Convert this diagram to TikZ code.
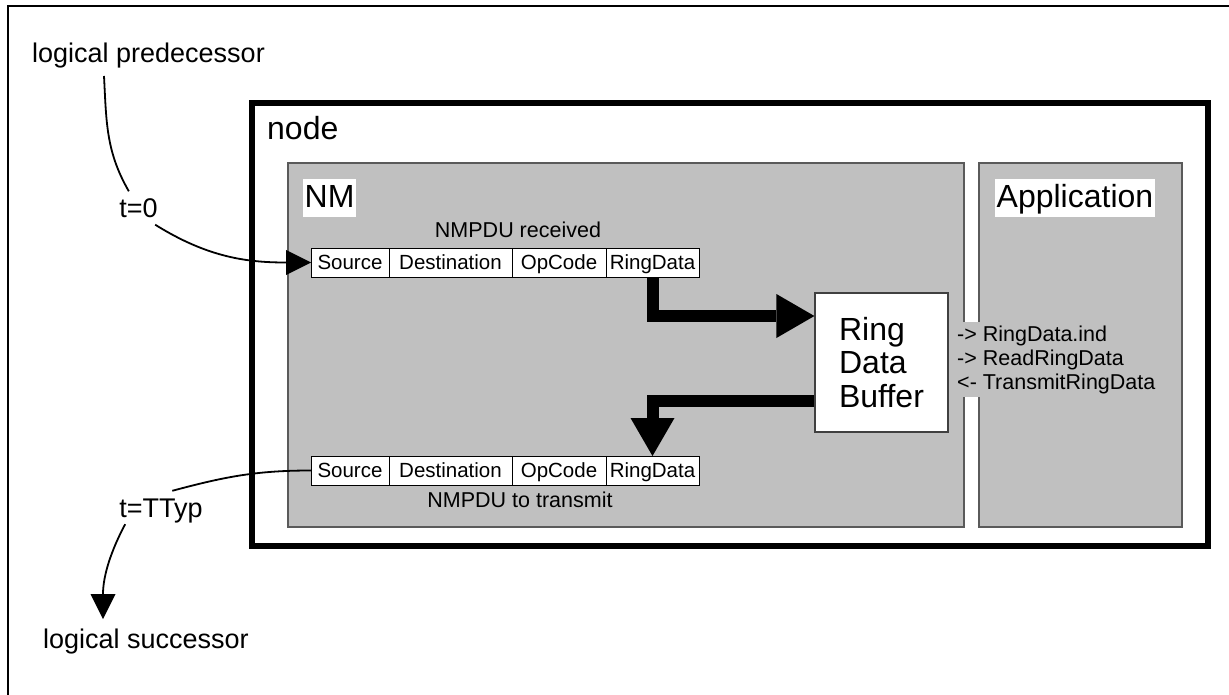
\documentclass[tikz,border=0pt]{standalone}
\usepackage{fontspec}
\setmainfont{Liberation Sans}
\usetikzlibrary{arrows.meta,calc}
\definecolor{boxgray}{HTML}{C0C0C0}
\definecolor{boxedge}{HTML}{5A5A5A}
\definecolor{rdbedge}{HTML}{404040}
\begin{document}
\begin{tikzpicture}[x=1pt,y=-1pt,
  outlbl/.style={inner sep=0pt, anchor=base west, font=\fontsize{27}{32}\selectfont},
  biglbl/.style={inner sep=0pt, anchor=base west, font=\fontsize{32}{38}\selectfont},
  whitelbl/.style={fill=white, inner xsep=1.5pt, inner ysep=0pt, text height=29pt, text depth=9pt, anchor=base west, font=\fontsize{32}{38}\selectfont},
  midlbl/.style={inner sep=0pt, anchor=base, font=\fontsize{21.5}{25}\selectfont},
  timelbl/.style={inner xsep=6pt, inner ysep=7pt, text height=19pt, text depth=0pt, font=\fontsize{27}{32}\selectfont},
  graybox/.style={fill=boxgray, draw=boxedge, line width=1.3pt, inner sep=0pt, outer sep=0pt, anchor=north west},
  field/.style={draw=black, line width=0.9pt, fill=white, minimum height=29pt, inner sep=0pt, outer sep=0pt, text height=14.7pt, text depth=0pt, font=\fontsize{20.5}{24}\selectfont, anchor=west},
  thinline/.style={line width=1.8pt},
  thinarrow/.style={line width=1.8pt, -{Triangle[length=25pt,width=25pt,line width=0pt]}},
  bigarrow/.style={line width=12pt, -{Triangle[length=38pt,width=44pt,line width=0pt]}},
]
\useasboundingbox (0,0) rectangle (1229,695);
% outer frame (only left and top visible)
\draw[line width=2pt] (7.5,695) -- (7.5,6) -- (1229,6);

% node container
\node[draw=black, line width=5.5pt, minimum width=956pt, minimum height=443pt, inner sep=0pt, outer sep=0pt, anchor=north west] (nodebox) at (252,103) {};
\node[biglbl] (nodelbl) at (267,140) {node};

% NM and Application boxes
\node[graybox, minimum width=676pt, minimum height=364pt] (nmbox) at (288,163) {};
\node[graybox, minimum width=203pt, minimum height=364pt] (appbox) at (979,163) {};
\node[whitelbl] (nmlbl) at (303,208) {NM};
\node[whitelbl] (applbl) at (995,208) {Application};

% received NMPDU
\node[midlbl] (rcv) at (518,238) {NMPDU received};
\node[field, minimum width=78pt] (s1) at (311,262.5) {Source};
\node[field, minimum width=123pt] (d1) at (s1.east) {Destination};
\node[field, minimum width=94pt] (o1) at (d1.east) {OpCode};
\node[field, minimum width=93pt] (r1) at (o1.east) {RingData};

% NMPDU to transmit
\node[field, minimum width=78pt] (s2) at (311,470.5) {Source};
\node[field, minimum width=123pt] (d2) at (s2.east) {Destination};
\node[field, minimum width=94pt] (o2) at (d2.east) {OpCode};
\node[field, minimum width=93pt] (r2) at (o2.east) {RingData};
\node[midlbl] (xmt) at (520,507) {NMPDU to transmit};

% Ring data buffer
\node[draw=rdbedge, line width=1.2pt, fill=white, minimum width=133pt, minimum height=139pt, inner sep=0pt, align=left, font=\fontsize{32}{33.5}\selectfont] (rdb) at (881.5,362.5) {Ring\\Data\\Buffer};

% API text
\node[fill=boxgray, inner xsep=2pt, inner ysep=3pt, align=left, anchor=west, font=\fontsize{21.5}{24}\selectfont] (api) at (955,359.5) {-> RingData.ind\\-> ReadRingData\\<- TransmitRingData};

% big arrows
\draw[bigarrow] (r1.south) |- ($(rdb.west)+(0,-46.5)$);
\draw[bigarrow] ($(rdb.west)+(0,38.5)$) -| (r2.north);

% outside labels
\node[outlbl] (pred) at (32,63) {logical predecessor};
\node[outlbl] (succ) at (43,648) {logical successor};
\node[timelbl] (t0) at (138.5,208) {t=0};
\node[timelbl] (ttyp) at (161,507.5) {t=TTyp};
\coordinate (predout) at (104,76);
\coordinate (succin) at (103,619);

% thin connectors
\draw[thinline] (predout) to[out=-87,in=120] (t0.120);
\draw[thinarrow] (t0.-45) to[out=-32,in=180] (s1.west);
\draw[thinline] (s2.west) to[out=180,in=15] (ttyp.56);
\draw[thinarrow] (ttyp.-155) to[out=-118,in=90] (succin);
\end{tikzpicture}
\end{document}
